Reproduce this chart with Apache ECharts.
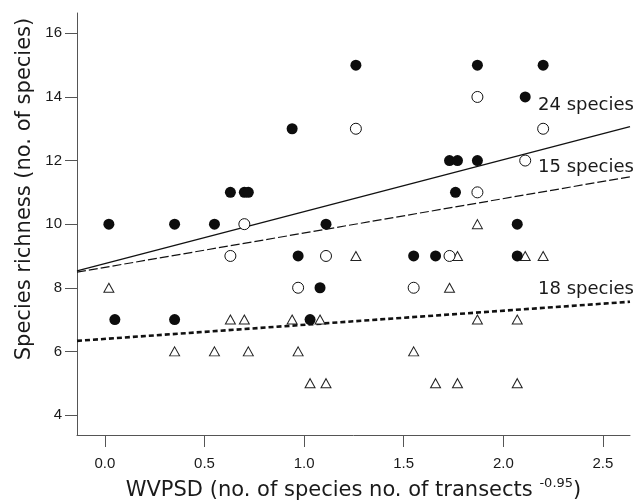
<!DOCTYPE html>
<html>
<head>
<meta charset="utf-8">
<script src="https://cdn.jsdelivr.net/npm/echarts@6/dist/echarts.min.js"></script>
<style>
  html, body { margin: 0; padding: 0; background: #fff; }
  #chart { width: 636px; height: 503px; }
</style>
</head>
<body>
<div id="chart"></div>
<script>
// filled circles (24 species)
const filledPts = [
  [0.02, 10], [0.05, 7], [0.35, 10], [0.35, 7], [0.55, 10], [0.63, 11], [0.70, 11], [0.72, 11],
  [0.94, 13], [0.97, 9], [1.03, 7], [1.08, 8], [1.11, 10], [1.26, 15], [1.55, 9], [1.66, 9],
  [1.73, 12], [1.77, 12], [1.76, 11], [1.87, 15], [1.87, 12], [2.07, 10], [2.07, 9], [2.11, 14], [2.20, 15]
];
// open circles (15 species)
const openPts = [
  [0.63, 9], [0.70, 10], [0.97, 8], [1.11, 9], [1.26, 13], [1.55, 8], [1.73, 9],
  [1.87, 14], [1.87, 11], [2.11, 12], [2.20, 13]
];
// triangles (18 species)
const triPts = [
  [0.02, 8], [0.35, 6], [0.55, 6], [0.63, 7], [0.70, 7], [0.72, 6], [0.94, 7], [0.97, 6],
  [1.03, 5], [1.08, 7], [1.11, 5], [1.26, 9], [1.55, 6], [1.66, 5], [1.73, 8], [1.77, 9],
  [1.77, 5], [1.87, 10], [1.87, 7], [2.07, 7], [2.07, 5], [2.11, 9], [2.20, 9]
];

// fitted lines, read at both ends of the x axis
const xMin = -0.14, xMax = 2.636;
const fit24 = [8.53, 13.07];
const fit15 = [8.49, 11.49];
const fit18 = [6.33, 7.56];

const xTicks = [0, 0.5, 1, 1.5, 2, 2.5];
const yTicks = [4, 6, 8, 10, 12, 14, 16];

const axisColor = '#555';
const textColor = '#1a1a1a';
const tickFont = 'Liberation Sans';
const titleFont = 'DejaVu Sans';

const chart = echarts.init(document.getElementById('chart'));

const lineOf = (ys) => [[xMin, ys[0]], [xMax, ys[1]]];

const option = {
  animation: false,
  backgroundColor: '#fff',
  grid: { left: 77, right: 6, top: 13, bottom: 68, outerBoundsMode: 'none' },
  xAxis: {
    type: 'value',
    min: xMin,
    max: xMax,
    splitLine: { show: false },
    axisLine: { onZero: false, lineStyle: { color: axisColor, width: 1 } },
    axisTick: { length: 12, customValues: xTicks, lineStyle: { color: axisColor } },
    axisLabel: {
      customValues: xTicks,
      formatter: (v) => v.toFixed(1),
      margin: 21,
      fontSize: 15,
      fontFamily: tickFont,
      color: textColor
    },
    name: '{a|WVPSD (no. of species no. of transects }{b|-0.95}{a|)}',
    nameLocation: 'middle',
    nameGap: 42,
    nameTextStyle: {
      rich: {
        a: { fontSize: 21, fontFamily: titleFont, color: textColor, lineHeight: 27 },
        b: { fontSize: 13, fontFamily: titleFont, color: textColor, verticalAlign: 'top', lineHeight: 12 }
      }
    }
  },
  yAxis: {
    type: 'value',
    min: 3.37,
    max: 16.64,
    splitLine: { show: false },
    axisLine: { show: true, onZero: false, lineStyle: { color: axisColor, width: 1 } },
    axisTick: { show: true, length: 12, customValues: yTicks, lineStyle: { color: axisColor } },
    axisLabel: {
      customValues: yTicks,
      margin: 15,
      fontSize: 15,
      fontFamily: tickFont,
      color: textColor
    }
  },
  graphic: [
    {
      type: 'text', x: 25, y: 189, rotation: Math.PI / 2,
      style: { text: 'Species richness (no. of species)', font: '21px "DejaVu Sans"', fill: textColor, align: 'center', verticalAlign: 'middle' }
    },
    { type: 'text', x: 538, y: 105, style: { text: '24 species', font: '18px "DejaVu Sans"', fill: textColor, verticalAlign: 'middle' } },
    { type: 'text', x: 538, y: 167, style: { text: '15 species', font: '18px "DejaVu Sans"', fill: textColor, verticalAlign: 'middle' } },
    { type: 'text', x: 538, y: 289, style: { text: '18 species', font: '18px "DejaVu Sans"', fill: textColor, verticalAlign: 'middle' } }
  ],
  series: [
    {
      type: 'line', data: lineOf(fit24), showSymbol: false, z: 1,
      lineStyle: { color: '#111', width: 1.3, type: 'solid' }
    },
    {
      type: 'line', data: lineOf(fit15), showSymbol: false, z: 1,
      lineStyle: { color: '#111', width: 1.2, type: [9, 3] }
    },
    {
      type: 'line', data: lineOf(fit18), showSymbol: false, z: 1,
      lineStyle: { color: '#111', width: 2.6, type: [5, 3] }
    },
    {
      type: 'scatter', data: triPts, symbol: 'triangle', symbolSize: [10, 9], z: 3,
      itemStyle: { color: '#fff', borderColor: '#222', borderWidth: 1, opacity: 1 }
    },
    {
      type: 'scatter', data: openPts, symbol: 'circle', symbolSize: 11, z: 3,
      itemStyle: { color: '#fff', borderColor: '#111', borderWidth: 1, opacity: 1 }
    },
    {
      type: 'scatter', data: filledPts, symbol: 'circle', symbolSize: 11, z: 4,
      itemStyle: { color: '#0d0d0d', opacity: 1 }
    }
  ]
};

chart.setOption(option);
window.addEventListener('resize', () => chart.resize());
</script>
</body>
</html>
